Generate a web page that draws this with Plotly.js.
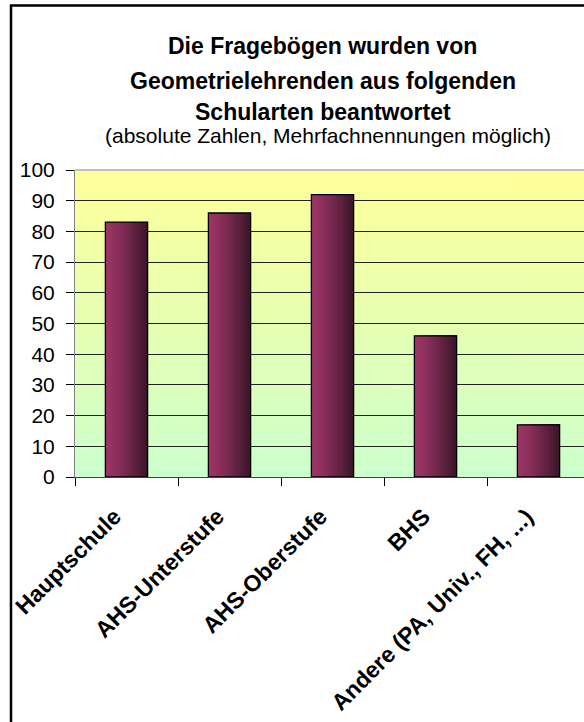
<!DOCTYPE html>
<html><head><meta charset="utf-8">
<script src="https://cdn.plot.ly/plotly-3.0.1.min.js"></script>
<style>html,body{margin:0;padding:0;background:#fff;overflow:hidden}</style>
</head><body><div id="chart" style="width:584px;height:722px"></div>
<script>
// ---- data ----
const categories = ["Hauptschule", "AHS-Unterstufe", "AHS-Oberstufe", "BHS", "Andere (PA, Univ., FH, ...)"];
const counts = [83, 86, 92, 46, 17];
const yTicks = [0, 10, 20, 30, 40, 50, 60, 70, 80, 90, 100];
const titleLines = ["Die Fragebögen wurden von", "Geometrielehrenden aus folgenden", "Schularten beantwortet"];
const subtitle = "(absolute Zahlen, Mehrfachnennungen möglich)";

// ---- plot background gradient (yellow -> light green) ----
const cv = document.createElement('canvas'); cv.width = 4; cv.height = 300;
const ctx = cv.getContext('2d');
const g = ctx.createLinearGradient(0, 0, 0, 300);
g.addColorStop(0, '#FFFF99'); g.addColorStop(1, '#CCFFCC');
ctx.fillStyle = g; ctx.fillRect(0, 0, 4, 300);
const bgURL = cv.toDataURL();

// ---- bar gradient made of overlapping layers (light left -> dark right) ----
const BAR_W = 0.41, N = 20;
const cLeft = [0x9b, 0x35, 0x66], cRight = [0x3b, 0x16, 0x28];
function mix(t) {
  const c = cLeft.map((v, k) => Math.round(v + (cRight[k] - v) * t));
  return 'rgb(' + c.join(',') + ')';
}
const traces = [];
for (let i = 0; i < N; i++) {
  const t = Math.pow(i / (N - 1), 1.3);
  const step = BAR_W / N;
  traces.push({
    type: 'bar', x: categories, y: counts,
    width: BAR_W - i * step, offset: -BAR_W / 2 + i * step,
    marker: { color: mix(t), line: { width: 0 } },
    hoverinfo: 'skip', showlegend: false
  });
}
traces.push({
  type: 'bar', x: categories, y: counts, width: BAR_W, offset: -BAR_W / 2,
  marker: { color: 'rgba(0,0,0,0)', line: { color: '#000', width: 1.3 } },
  showlegend: false, name: 'Anzahl'
});

// pixel -> paper helpers (plot area: x 75..584, y 170..477)
const L = 75, R = 584, T = 170, B = 477;
const px = v => (v - L) / (R - L);
const py = v => (B - v) / (B - T);

const annotations = [
  { text: titleLines[0], yc: 45.5 },
  { text: titleLines[1], yc: 80.5 },
  { text: titleLines[2], yc: 112.5 }
].map(a => ({
  text: a.text, xref: 'paper', yref: 'paper', x: px(322.5), y: py(a.yc),
  xanchor: 'center', yanchor: 'middle', showarrow: false,
  font: { size: 23, weight: 'bold', color: '#000' }
}));
annotations.push({
  text: subtitle, xref: 'paper', yref: 'paper', x: px(328), y: py(135.5),
  xanchor: 'center', yanchor: 'middle', showarrow: false,
  font: { size: 21, color: '#000' }
});

const layout = {
  width: 584, height: 722,
  margin: { l: L, r: 584 - R, t: T, b: 722 - B, pad: 0 },
  paper_bgcolor: '#ffffff', plot_bgcolor: 'rgba(0,0,0,0)',
  font: { family: '"Liberation Sans", Arial, sans-serif', color: '#000' },
  barmode: 'overlay',
  xaxis: {
    type: 'category', range: [-0.5, -0.5 + (R - L) / 103],
    tickson: 'boundaries', ticks: 'outside', ticklen: 8, tickcolor: '#000', tickwidth: 1,
    showgrid: false, showline: true, linecolor: '#404040', linewidth: 1,
    tickangle: -45, tickfont: { size: 23, weight: 'bold' },
    ticklabelstandoff: 16, ticklabelshift: -12, fixedrange: true
  },
  yaxis: {
    range: [0, 100], tickvals: yTicks, ticks: 'outside', ticklen: 8, tickcolor: '#000', tickwidth: 1,
    showgrid: true, gridcolor: '#222', gridwidth: 1, zeroline: false,
    showline: true, linecolor: '#808080', linewidth: 1,
    tickfont: { size: 21 }, ticklabelstandoff: 7, fixedrange: true
  },
  images: [{ source: bgURL, xref: 'paper', yref: 'paper', x: 0, y: 1, sizex: 1, sizey: 1,
             sizing: 'stretch', layer: 'below', xanchor: 'left', yanchor: 'top' }],
  shapes: [
    { type: 'line', xref: 'paper', yref: 'paper', x0: 0, x1: 1, y0: 1, y1: 1,
      line: { color: '#c0c0c0', width: 2 }, layer: 'above' },
    { type: 'rect', xref: 'paper', yref: 'paper', x0: px(11), x1: px(660), y0: py(5.5), y1: py(760),
      line: { color: '#000', width: 2.5 }, fillcolor: 'rgba(0,0,0,0)', layer: 'above' }
  ],
  annotations: annotations,
  showlegend: false
};

Plotly.newPlot('chart', traces, layout, { displayModeBar: false, staticPlot: true });
</script>
</body></html>
